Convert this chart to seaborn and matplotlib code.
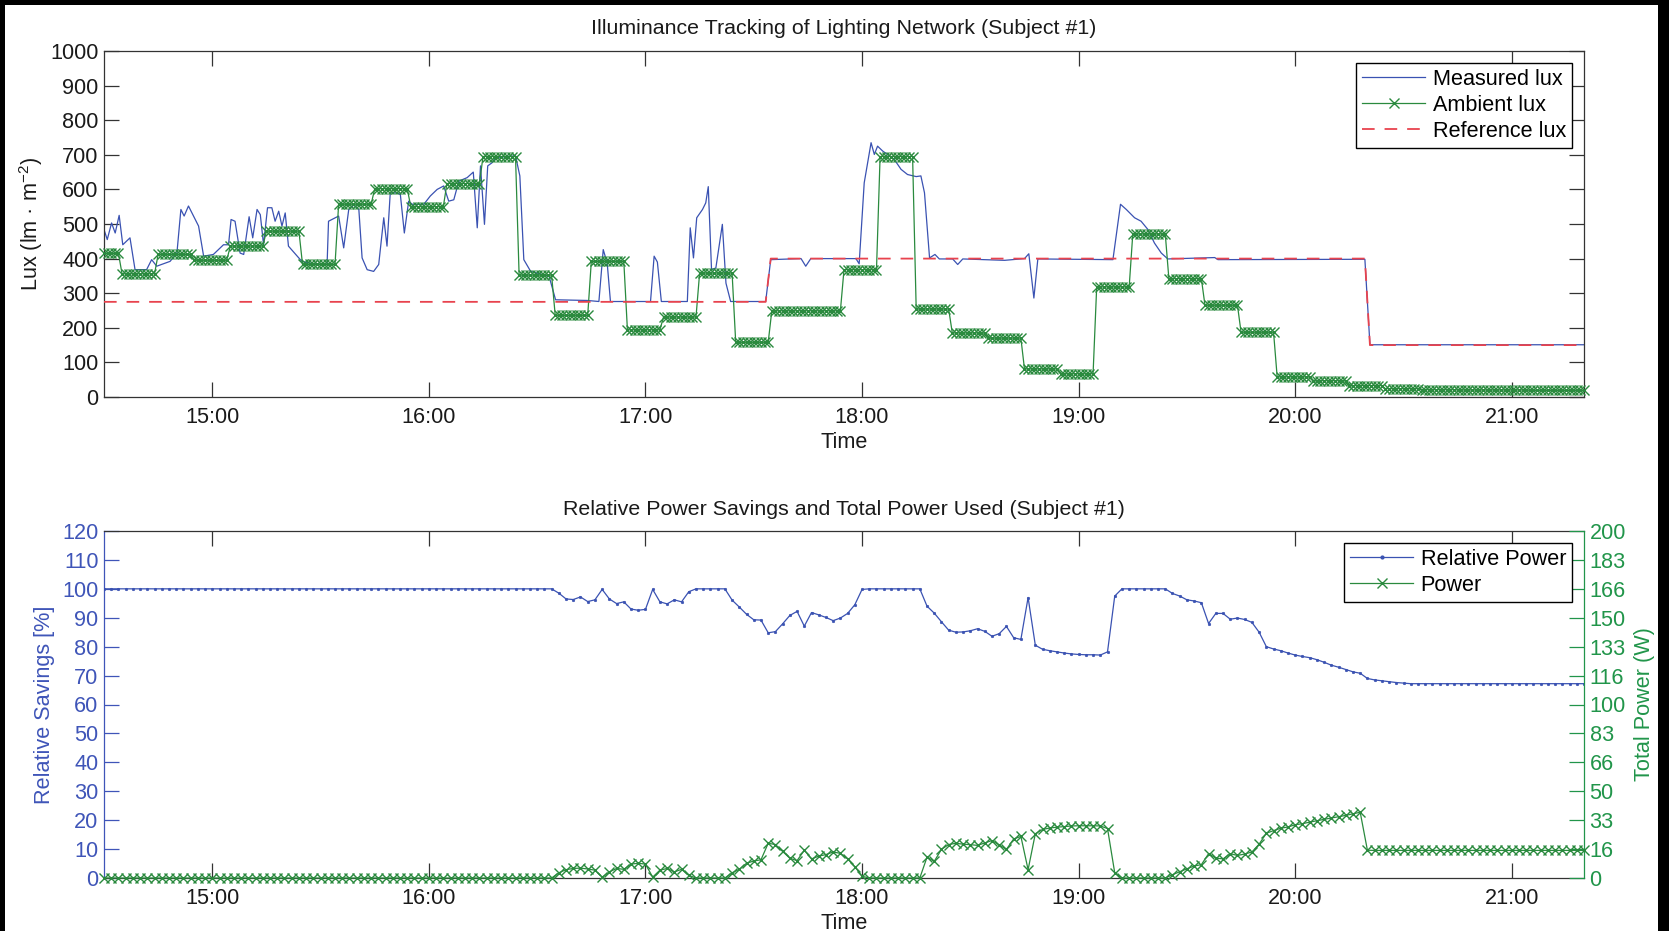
import numpy as np
import pandas as pd
import matplotlib
matplotlib.use("Agg")
import matplotlib.pyplot as plt
from matplotlib.patches import Rectangle
from matplotlib.lines import Line2D
import seaborn as sns

# ---------------- data ----------------
start_time = "2013-01-01 14:30"
end_time = "2013-01-01 21:20"
hour_tick_labels = ["15:00", "16:00", "17:00", "18:00", "19:00", "20:00", "21:00"]

# Ambient lux: one sample per minute, level held in runs (run lengths in samples)
ambient_levels = [415, 356, 412, 395, 436, 479, 383, 557, 602, 550, 617, 695, 352, 236,
                  392, 194, 231, 358, 158, 249, 249, 368, 695, 254, 185, 170, 81, 67,
                  318, 471, 342, 265, 187, 58, 47, 33, 24, 21, 20, 20, 19, 19]
ambient_counts = [5] + [10] * 40 + [6]

# Measured lux (minutes after 14:30, lux)
measured_points = [
    (0.0, 484), (0.9, 455), (2.1, 503), (3.1, 474), (4.2, 525), (5.2, 440), (7.2, 460),
    (8.6, 368), (11.8, 368), (13.2, 397), (14.6, 378), (18.3, 392), (20.2, 416),
    (21.3, 542), (22.2, 523), (23.4, 552), (26.2, 494), (27.6, 407), (30.3, 412),
    (33.1, 440), (34.5, 440), (35.2, 513), (36.3, 508), (37.7, 416), (38.7, 412),
    (40.2, 521), (41.2, 460), (42.4, 542), (43.3, 527), (44.2, 440), (45.3, 547),
    (46.5, 547), (47.4, 508), (48.4, 537), (49.3, 494), (50.2, 532), (51.1, 436),
    (54.8, 392), (58.1, 385), (61.8, 383), (62.2, 508), (65.0, 523), (66.4, 431),
    (67.8, 542), (69.2, 555), (70.6, 542), (71.5, 402), (72.9, 368), (74.7, 363),
    (76.1, 383), (77.5, 518), (78.4, 436), (79.3, 590), (81.2, 590), (82.1, 585),
    (83.2, 474), (84.4, 566), (85.4, 557), (88.6, 557), (90.4, 581), (92.3, 600),
    (94.1, 610), (95.5, 566), (96.9, 570), (98.3, 624), (100.6, 634), (102.3, 650),
    (103.4, 489), (104.3, 668), (105.4, 499), (106.3, 668), (107.5, 677), (108.5, 692),
    (114.0, 697), (115.2, 639), (116.3, 397), (118.2, 363), (123.3, 349), (125.1, 281),
    (133.9, 279), (137.1, 276), (138.3, 426), (139.4, 387), (140.3, 276), (151.4, 276),
    (152.4, 407), (153.3, 390), (154.4, 276), (161.6, 276), (162.4, 489), (163.3, 402),
    (164.2, 518), (165.8, 542), (166.7, 561), (167.4, 608), (168.3, 368), (169.5, 373),
    (171.3, 499), (172.3, 329), (173.6, 276), (183.3, 276), (184.7, 397), (193.1, 400),
    (194.4, 378), (195.8, 400), (208.3, 400), (209.2, 385), (210.6, 619), (212.5, 735),
    (213.4, 701), (214.3, 725), (215.7, 711), (218.9, 687), (220.8, 658), (222.6, 643),
    (225.0, 637), (226.3, 639), (227.3, 590), (228.7, 402), (230.2, 412), (231.4, 399),
    (235.1, 399), (236.5, 383), (237.9, 399), (249.5, 395), (255.0, 400), (256.2, 414),
    (257.6, 286), (258.7, 399), (279.5, 397), (281.6, 557), (283.2, 542), (285.5, 518),
    (287.3, 508), (289.2, 484), (291.0, 445), (292.9, 416), (294.7, 399), (307.7, 403),
    (308.6, 397), (349.3, 398), (350.7, 151), (410.0, 151),
]

# Reference lux (minutes after 14:30, lux)
reference_points = [(0, 275), (183.3, 275), (184.7, 400), (349.3, 400), (350.7, 150), (410, 150)]

# Bottom panel: one sample every 2 minutes
rel_chunk_a = [98.5, 96.5, 96.3, 97.2, 95.6, 96.2, 99.8, 96.5, 94.9, 95.5, 93.0, 92.6,
               92.9, 99.8, 95.5, 94.8, 96.2, 95.5, 99.0]
rel_chunk_b = [96.1, 93.7, 91.2, 89.3, 89.2, 84.8, 85.2, 87.9, 90.8, 92.2, 87.1, 91.8,
               91.0, 90.1, 89.0, 89.9, 91.5, 94.5, 99.8]
rel_chunk_c = [94.0, 91.6, 88.6, 85.7, 85.0, 85.1, 85.5, 86.2, 85.3, 83.6, 84.5, 87.0,
               83.1, 82.5, 97.0, 80.5, 79.1, 78.6, 78.2, 77.8, 77.5, 77.3, 77.2, 77.2,
               77.1, 78.2, 97.5]
rel_chunk_d = [98.4, 97.5, 96.2, 95.8, 95.2, 88.0, 91.5, 91.5, 89.5, 89.9, 89.4, 88.4,
               85.0, 80.0, 79.2, 78.6, 77.8, 77.1, 76.6, 76.2, 75.5, 74.6, 73.6, 72.9,
               72.1, 71.3, 70.8, 69.0, 68.5, 68.2, 67.9, 67.6, 67.4]
relative_power = ([100.0] * 63 + rel_chunk_a + [100.0] * 5 + rel_chunk_b + [100.0] * 8
                  + rel_chunk_c + [100.0] * 7 + rel_chunk_d + [67.2] * 25)

pow_chunk_a = [3.0, 4.8, 5.5, 5.7, 5.2, 4.5, 0.5, 3.5, 5.5, 5.0, 8.0, 8.5, 8.0, 0.5,
               4.5, 5.5, 3.5, 5.0, 1.5]
pow_chunk_b = [3.0, 5.0, 8.5, 9.8, 10.5, 20.0, 19.3, 15.3, 11.4, 10.0, 16.0, 11.0,
               12.6, 13.5, 15.0, 14.2, 11.0, 6.5, 1.0]
pow_chunk_c = [12.0, 9.6, 16.5, 19.3, 20.0, 19.5, 19.2, 18.8, 20.2, 21.6, 19.0, 16.5,
               22.5, 24.0, 4.8, 25.5, 28.0, 28.8, 29.3, 29.6, 30.0, 30.1, 30.1, 30.1,
               30.0, 28.5, 3.0]
pow_chunk_d = [1.9, 3.6, 5.3, 6.9, 7.7, 14.0, 11.5, 11.0, 14.0, 13.0, 13.8, 15.0,
               19.5, 25.8, 27.3, 28.7, 29.4, 30.7, 31.3, 32.2, 33.0, 33.8, 34.6, 35.3,
               36.1, 37.0, 37.9, 16.0, 15.9, 15.9, 15.9, 15.9, 15.9]
total_power = ([0.0] * 63 + pow_chunk_a + [0.0] * 5 + pow_chunk_b + [0.0] * 8
               + pow_chunk_c + [0.0] * 7 + pow_chunk_d + [15.9] * 25)

power_tick_labels = ["0", "16", "33", "50", "66", "83", "100", "116", "133", "150", "166", "183", "200"]

# ---------------- styling ----------------
plt.rcParams['font.family'] = ['Liberation Sans', 'DejaVu Sans']
plt.rcParams['mathtext.default'] = 'regular'

BLUE = '#3a52b2'
GREEN = '#2a8a3e'
RED = '#e8434e'
LBLUE = '#3f55b8'
LGREEN = '#21954a'
TXT = '#1a1a1a'
SPINE = '#333333'
FS = 15.6
TFS = 15.4
MS = 7

t0 = pd.Timestamp(start_time)
t_end = pd.Timestamp(end_time)

def to_time(minutes):
    return t0 + pd.to_timedelta(np.asarray(minutes, dtype=float), unit='min')

amb_vals = np.repeat(ambient_levels, ambient_counts)
amb_t = to_time(np.arange(len(amb_vals)))
meas_t = to_time([p[0] for p in measured_points])
meas_v = [p[1] for p in measured_points]
ref_t = to_time([p[0] for p in reference_points])
ref_v = [p[1] for p in reference_points]
bot_t = to_time(np.arange(len(relative_power)) * 2)

fig = plt.figure(figsize=(16.69, 9.31), dpi=100, facecolor='black')
fig.add_artist(Rectangle((5 / 1669, 0), (1658 - 5) / 1669, (931 - 5) / 931,
                         transform=fig.transFigure, facecolor='white',
                         edgecolor='none', zorder=-10))

ax1 = fig.add_axes([104 / 1669, 1 - 397 / 931, 1480 / 1669, 346 / 931])
ax2 = fig.add_axes([104 / 1669, 1 - 878 / 931, 1480 / 1669, 347 / 931])

def style_time_axis(ax):
    ax.set_xlim(t0, t_end)
    hours = [pd.Timestamp(t0.strftime('%Y-%m-%d') + ' ' + h) for h in hour_tick_labels]
    ax.set_xticks(hours)
    ax.set_xticklabels(hour_tick_labels)
    ax.tick_params(axis='x', direction='in', length=11, width=0.9, top=True,
                   labelsize=FS, pad=7, colors=SPINE, labelcolor=TXT)
    ax.set_xlabel('Time', fontsize=FS, color=TXT, labelpad=3)
    for s in ax.spines.values():
        s.set_linewidth(0.9)
        s.set_color(SPINE)
    ax.set_facecolor('white')

legend_kw = dict(loc='upper right', fontsize=FS, frameon=True, fancybox=False,
                 edgecolor='black', framealpha=1, handlelength=2.9, handletextpad=0.35,
                 borderpad=0.28, labelspacing=0.22, borderaxespad=0.55)

# ---- top panel ----
sns.lineplot(x=meas_t, y=meas_v, ax=ax1, color=BLUE, lw=0.9, estimator=None,
             sort=False, legend=False, zorder=2)
sns.lineplot(x=amb_t, y=amb_vals, ax=ax1, color=GREEN, lw=0.9, marker='x',
             markersize=MS, markeredgewidth=1.0, markeredgecolor=GREEN,
             estimator=None, sort=False, legend=False, zorder=3, clip_on=False)
sns.lineplot(x=ref_t, y=ref_v, ax=ax1, color=RED, lw=1.3, linestyle=(0, (7, 5.5)),
             estimator=None, sort=False, legend=False, zorder=4)
ax1.set_ylim(0, 1000)
ax1.set_yticks(np.arange(0, 1001, 100))
ax1.tick_params(axis='y', direction='in', length=11, width=0.9, right=True,
                labelsize=FS, pad=4, colors=SPINE, labelcolor=TXT)
style_time_axis(ax1)
ax1.set_ylabel('Lux (lm · m$^{-2}$)', fontsize=FS, color=TXT, labelpad=4)
ax1.set_title('Illuminance Tracking of Lighting Network (Subject #1)', fontsize=TFS,
              color=TXT, pad=12)
h1 = [Line2D([], [], color=BLUE, lw=0.9),
      Line2D([], [], color=GREEN, lw=0.9, marker='x', markersize=MS, markeredgewidth=1.0),
      Line2D([], [], color=RED, lw=1.3, linestyle=(0, (7, 5.5)))]
leg1 = ax1.legend(h1, ['Measured lux', 'Ambient lux', 'Reference lux'], **legend_kw)
leg1.get_frame().set_linewidth(1.0)

# ---- bottom panel ----
sns.lineplot(x=bot_t, y=relative_power, ax=ax2, color=BLUE, lw=0.9, marker='.',
             markersize=3.5, markeredgewidth=0.5, markeredgecolor=BLUE,
             estimator=None, sort=False, legend=False, zorder=3)
ax2.set_ylim(0, 120)
ax2.set_yticks(np.arange(0, 121, 10))
ax2.tick_params(axis='y', direction='in', length=11, width=0.9, right=False,
                labelsize=FS, pad=4, colors=LBLUE)
style_time_axis(ax2)
ax2.spines['left'].set_color(LBLUE)
ax2.spines['right'].set_visible(False)
ax2.set_ylabel('Relative Savings [%]', fontsize=FS, color=LBLUE, labelpad=5)
ax2.set_title('Relative Power Savings and Total Power Used (Subject #1)', fontsize=TFS,
              color=TXT, pad=11.5)

ax3 = ax2.twinx()
sns.lineplot(x=bot_t, y=total_power, ax=ax3, color=GREEN, lw=0.9, marker='x',
             markersize=MS, markeredgewidth=1.0, markeredgecolor=GREEN,
             estimator=None, sort=False, legend=False, zorder=3, clip_on=False)
ax3.set_xlim(t0, t_end)
ax3.set_ylim(0, 200)
ax3.set_yticks(np.linspace(0, 200, len(power_tick_labels)))
ax3.set_yticklabels(power_tick_labels)
ax3.tick_params(axis='y', direction='in', length=11, width=0.9, labelsize=FS, pad=4,
                colors=LGREEN)
for side in ['left', 'top', 'bottom']:
    ax3.spines[side].set_visible(False)
ax3.spines['right'].set_color(LGREEN)
ax3.spines['right'].set_linewidth(0.9)
ax3.set_ylabel('Total Power (W)', fontsize=FS, color=LGREEN, labelpad=6)

h2 = [Line2D([], [], color=BLUE, lw=0.9, marker='.', markersize=4),
      Line2D([], [], color=GREEN, lw=0.9, marker='x', markersize=MS, markeredgewidth=1.0)]
leg2 = ax3.legend(h2, ['Relative Power', 'Power'], **legend_kw)
leg2.get_frame().set_linewidth(1.0)

fig.savefig('out.png', dpi=100, facecolor=fig.get_facecolor())
